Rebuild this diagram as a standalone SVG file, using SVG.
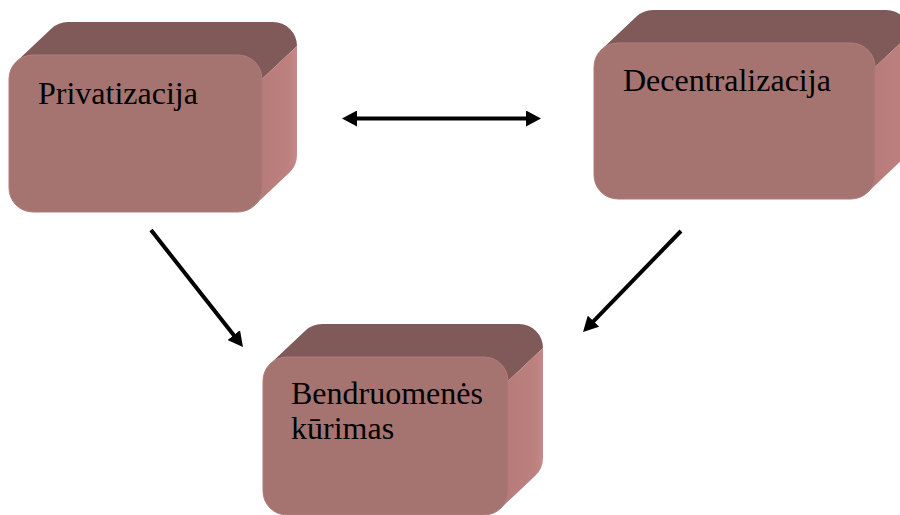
<svg xmlns="http://www.w3.org/2000/svg" width="900" height="515" viewBox="0 0 900 515">
<style>
.top{fill:#7F5A58}
.side{fill:url(#sideGrad)}
.front{fill:#A57370;stroke:#B07D7A;stroke-width:1}
.lbl{font-family:"Liberation Serif","Times New Roman",serif;font-size:32px;fill:#000}
.conn{stroke:#000;stroke-width:4;fill:none}
</style>
<defs>
<linearGradient id="sideGrad" x1="0" y1="0" x2="1" y2="0">
<stop offset="0" stop-color="#B67B79"/>
<stop offset="0.8" stop-color="#BC807E"/>
<stop offset="1" stop-color="#C58A88"/>
</linearGradient>
<marker id="ah" markerUnits="userSpaceOnUse" markerWidth="16" markerHeight="16" refX="5" refY="8" orient="auto-start-reverse" viewBox="0 0 16 16">
<path d="M0,0 L15,8 L0,16 Z" fill="#000"/>
</marker>
</defs>
<g id="privatizacija">
<path class="top" d="M16.5,61.5 L51.5,28.5 A24,24 0 0 1 68,22 L273,22 A24,24 0 0 1 297,46 L262,79 L238,79 L238,55 L33,55 A24,24 0 0 0 16.5,61.5 Z"/>
<path class="side" d="M262,79 L297,46 L297,155 A24,24 0 0 1 289.5,172.5 L254.5,205.5 L262,188 Z"/>
<rect class="front" x="9" y="55" width="253" height="157" rx="24" ry="24"/>
<text class="lbl" x="38" y="104">Privatizacija</text>
</g>
<g id="decentralizacija">
<path class="top" d="M601.5,49.5 L636.5,16.5 A24,24 0 0 1 653,10 L886,10 A24,24 0 0 1 910,34 L875,67 L851,67 L851,43 L618,43 A24,24 0 0 0 601.5,49.5 Z"/>
<path class="side" d="M875,67 L910,34 L910,142 A24,24 0 0 1 902.5,159.5 L867.5,192.5 L875,175 Z"/>
<rect class="front" x="594" y="43" width="281" height="156" rx="24" ry="24"/>
<text class="lbl" x="623" y="91">Decentralizacija</text>
</g>
<g id="bendruomenes">
<path class="top" d="M270.5,363.5 L305.5,330.5 A24,24 0 0 1 322,324 L519,324 A24,24 0 0 1 543,348 L508,381 L484,381 L484,357 L287,357 A24,24 0 0 0 270.5,363.5 Z"/>
<path class="side" d="M508,381 L543,348 L543,458 A24,24 0 0 1 535.5,475.5 L500.5,508.5 L508,491 Z"/>
<rect class="front" x="263" y="357" width="245" height="158" rx="24" ry="24"/>
<text class="lbl" x="291" y="404">Bendruomenės</text>
<text class="lbl" x="291" y="439">kūrimas</text>
</g>
<g id="connectors">
<line class="conn" x1="352" y1="118.5" x2="531" y2="118.5" marker-start="url(#ah)" marker-end="url(#ah)"/>
<line class="conn" x1="151" y1="230" x2="236.8" y2="339.1" marker-end="url(#ah)"/>
<line class="conn" x1="681" y1="231" x2="590" y2="324.8" marker-end="url(#ah)"/>
</g>
</svg>
